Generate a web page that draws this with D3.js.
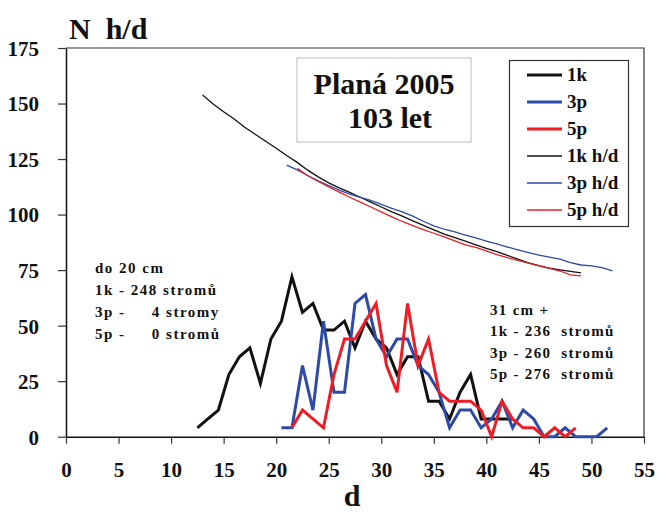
<!DOCTYPE html>
<html><head><meta charset="utf-8">
<script src="https://cdn.jsdelivr.net/npm/d3@7"></script>
<style>
body{margin:0;background:#fff;}
svg text{font-family:"Liberation Serif","Times New Roman",serif;font-weight:bold;fill:#111;}
</style></head>
<body><svg id="c" width="659" height="526"></svg>
<script>
// N counts per diameter class (d at half-cm)
const d1k = [12.5,13.5,14.5,15.5,16.5,17.5,18.5,19.5,20.5,21.5,22.5,23.5,24.5,25.5,26.5,27.5,28.5,29.5,30.5,31.5,32.5,33.5,34.5,35.5,36.5,37.5,38.5,39.5,40.5,41.5,42.5];
const n1k = [4,8,12,28,36,40,24,44,52,72,56,60,48,48,52,40,52,44,40,28,36,36,16,16,8,20,28,8,8,8,8];
const d3p = [20.5,21.5,22.5,23.5,24.5,25.5,26.5,27.5,28.5,29.5,30.5,31.5,32.5,33.5,34.5,35.5,36.5,37.5,38.5,39.5,40.5,41.5,42.5,43.5,44.5,45.5,46.5,47.5,48.5,49.5,50.5,51.5];
const n3p = [4,4,32,12,52,20,20,60,64,44,36,44,44,32,28,20,4,12,12,4,8,16,4,12,8,0,0,4,0,0,0,4];
const d5p = [21.5,22.5,23.5,24.5,25.5,26.5,27.5,28.5,29.5,30.5,31.5,32.5,33.5,34.5,35.5,36.5,37.5,38.5,39.5,40.5,41.5,42.5,43.5,44.5,45.5,46.5,47.5,48.5];
const n5p = [4,12,8,4,28,44,44,52,60,32,20,60,32,44,20,16,16,16,12,0,16,8,4,4,0,4,0,4];
// h/d curves
const hd1kD = [13,14,15,16,17,18,19,20,21,22,23,24,25,26,27,28,29,30,31,32,33,34,35,36,37,38,39,40,41,42,43,44,45,46,47,48,49];
const hd1k = [153.8,149.8,146.3,143.0,139.3,136.2,133.0,129.9,126.6,123.5,120.0,117.0,114.3,112.0,110.0,107.8,105.6,103.4,101.2,99.3,97.2,95.1,93.1,91.2,89.6,88.0,86.4,84.8,83.3,81.6,79.9,78.3,77.0,75.9,75.1,74.4,73.8];
const hd3pD = [21,22,23,24,25,26,27,28,29,30,31,32,33,34,35,36,37,38,39,40,41,42,43,44,45,46,47,48,49,50,51,52];
const hd3p = [122.3,120.1,117.6,115.2,113.0,111.0,109.2,107.8,106.4,104.6,102.8,101.2,99.3,97.0,94.9,93.4,92.2,90.8,89.5,88.1,86.8,85.4,84.1,82.9,81.8,80.8,79.9,78.4,77.3,76.9,76.1,74.7];
const hd5pD = [22,23,24,25,26,27,28,29,30,31,32,33,34,35,36,37,38,39,40,41,42,43,44,45,46,47,48,49];
const hd5p = [120.8,117.5,114.9,112.4,110.1,107.8,105.6,103.4,101.2,99.0,96.9,95.0,93.2,91.6,90.0,88.2,86.4,85.2,83.7,82.0,80.6,79.4,78.1,76.9,75.8,74.6,72.9,72.4];

const xTicks = [0,5,10,15,20,25,30,35,40,45,50,55];
const yTicks = [0,25,50,75,100,125,150,175];
const legendLabels = ["1k","3p","5p","1k h/d","3p h/d","5p h/d"];
const titleLines = ["Planá 2005","103 let"];
const noteLeft = ["do 20 cm","1k - 248 stromů","3p -     4 stromy","5p -     0 stromů"];
const noteRight = ["31 cm +","1k - 236  stromů","3p - 260  stromů","5p - 276  stromů"];

const BLACK="#111111", BLUE="#2d4ba6", RED="#ee1d25";
const svg = d3.select("#c");
const x = d3.scaleLinear().domain([0,55]).range([66,644]);
const y = d3.scaleLinear().domain([0,175]).range([436.7,48]);

// plot frame (top & right)
svg.append("path").attr("d",`M${x(0)},${y(175)}H${x(55)}V${y(0)}`).attr("fill","none").attr("stroke","#333").attr("stroke-width",1.2);

const gx = svg.append("g").attr("transform",`translate(0,${y(0)})`)
  .call(d3.axisBottom(x).tickValues(xTicks).tickSize(7).tickSizeOuter(0).tickPadding(18));
gx.selectAll("text").attr("font-size",21).attr("font-family",null);
const gy = svg.append("g").attr("transform",`translate(${x(0)},0)`)
  .call(d3.axisLeft(y).tickValues(yTicks).tickSize(8).tickSizeOuter(0).tickPadding(19));
gy.selectAll("text").attr("font-size",21).attr("font-family",null).attr("dy","0.35em");
svg.selectAll(".domain").attr("stroke","#111").attr("stroke-width",1.5);
svg.selectAll(".tick line").attr("stroke","#333").attr("stroke-width",1.2);

// title box
svg.append("rect").attr("x",297).attr("y",58).attr("width",174).attr("height",84)
  .attr("fill","#fff").attr("stroke","#c8c8c8").attr("stroke-width",1.2);
svg.append("text").attr("x",384).attr("y",94).attr("text-anchor","middle").attr("font-size",30).text(titleLines[0]);
svg.append("text").attr("x",390).attr("y",128).attr("text-anchor","middle").attr("font-size",30).text(titleLines[1]);

const line = d3.line().x(d=>x(d[0])).y(d=>y(d[1]));
function draw(ds, vs, color, w){
  svg.append("path").datum(ds.map((d,i)=>[d,vs[i]])).attr("d",line)
    .attr("fill","none").attr("stroke",color).attr("stroke-width",w).attr("stroke-linejoin","miter");
}
draw(hd1kD,hd1k,BLACK,1.3);
draw(hd3pD,hd3p,BLUE,1.3);
draw(hd5pD,hd5p,RED,1.3);
draw(d1k,n1k,BLACK,3);
draw(d3p,n3p,BLUE,3);
draw(d5p,n5p,RED,3);

// legend
svg.append("rect").attr("x",509.5).attr("y",60.5).attr("width",119).attr("height",166)
  .attr("fill","#fff").attr("stroke","#333").attr("stroke-width",1.2);
const lc = [BLACK,BLUE,RED,BLACK,BLUE,RED];
const lw = [3,3,3,1.3,1.3,1.3];
legendLabels.forEach((t,i)=>{
  const yy = 75 + i*27;
  svg.append("line").attr("x1",527).attr("x2",562).attr("y1",yy).attr("y2",yy).attr("stroke",lc[i]).attr("stroke-width",lw[i]);
  svg.append("text").attr("x",567).attr("y",yy+6).attr("font-size",19).text(t);
});

// axis titles
svg.append("text").attr("x",69).attr("y",39).attr("font-size",30).style("white-space","pre").text("N  h/d");
svg.append("text").attr("x",352).attr("y",506).attr("text-anchor","middle").attr("font-size",30).text("d");

// notes
noteLeft.forEach((t,i)=>{
  svg.append("text").attr("x",95).attr("y",273+i*22).attr("font-size",15).attr("letter-spacing",1.5)
    .style("white-space","pre").text(t);
});
noteRight.forEach((t,i)=>{
  svg.append("text").attr("x",490).attr("y",315+i*21.3).attr("font-size",15).attr("letter-spacing",1.3)
    .style("white-space","pre").text(t);
});
</script></body></html>
